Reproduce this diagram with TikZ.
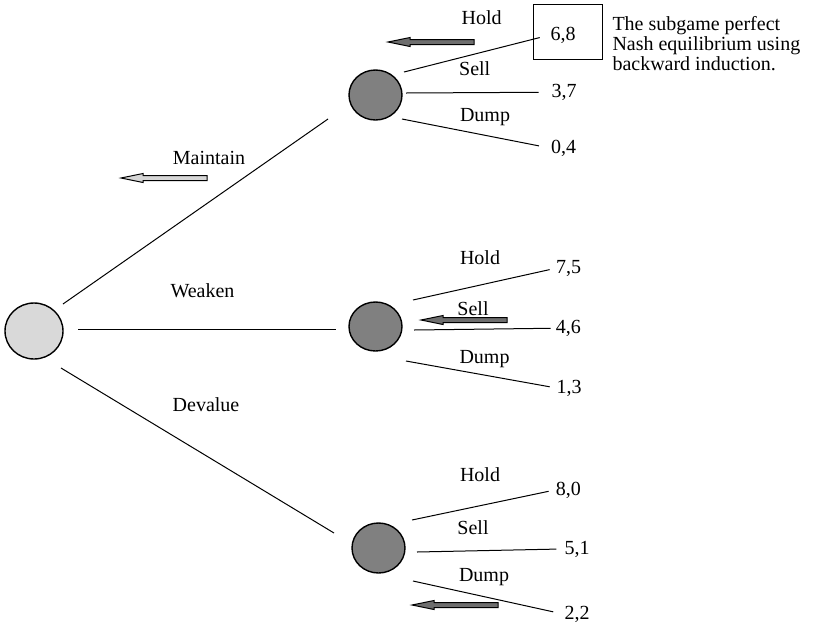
\documentclass[tikz,border=0pt]{standalone}
\usepackage{fontspec}
\setmainfont{Liberation Serif}
\usetikzlibrary{calc,shapes.geometric}
\definecolor{lightarr}{gray}{0.84}
\definecolor{darkarr}{gray}{0.43}

\begin{document}
\begin{tikzpicture}[x=0.5pt,y=-0.5pt,font=\rmfamily\fontsize{10}{10.2}\selectfont,line width=0.5pt,
  decision/.style={ellipse,draw,line width=0.7pt,inner sep=0pt,fill=#1},
  pay/.style={inner sep=0pt,anchor=base},
  act/.style={inner sep=0pt,anchor=base}]
 \useasboundingbox (0,0) rectangle (814,622);

 % decision nodes
 \node[decision=gray!30,minimum width=29pt,minimum height=28pt] (root) at (34,331) {};
 \node[decision=gray,minimum width=26.5pt,minimum height=25pt] (up) at (375.5,95) {};
 \node[decision=gray,minimum width=26.5pt,minimum height=24.5pt] (mid) at (375.5,326.5) {};
 \node[decision=gray,minimum width=26.5pt,minimum height=25pt] (low) at (378.5,548) {};

 % payoffs
 \node[pay] (p68) at (563.2,40) {6,8};
 \node[pay] (p37) at (564,97.3) {3,7};
 \node[pay] (p04) at (563.7,153.3) {0,4};
 \node[pay] (p75) at (568.5,273.3) {7,5};
 \node[pay] (p46) at (568.3,333.3) {4,6};
 \node[pay] (p13) at (569,393) {1,3};
 \node[pay] (p80) at (568.3,495) {8,0};
 \node[pay] (p51) at (577,554) {5,1};
 \node[pay] (p22) at (577,619.3) {2,2};

 % first move
 \draw ($(root)+(29,-27)$) -- ($(up)+(-47.5,24)$);
 \draw ($(root)+(44,-2)$) -- ($(mid)+(-39.5,2.5)$);
 \draw ($(root)+(27,37)$) -- ($(low)+(-44.5,-15)$);
 \node[act] (maintain) at (209,164.6) {Maintain};
 \node[act] (weaken) at (202.5,297.6) {Weaken};
 \node[act] (devalue) at (206,411.6) {Devalue};

 % second move
 \draw[shorten >=5.4pt] ($(up)+(28.5,-23)$) -- (p68.west);
 \draw[shorten >=6.2pt] ($(up)+(30.5,-2)$) -- (p37.west);
 \draw[shorten >=6pt] ($(up)+(26.5,24)$) -- (p04.west);
 \draw[shorten >=3pt] ($(mid)+(37.5,-26.5)$) -- (p75.west);
 \draw[shorten >=2.4pt] ($(mid)+(38.5,3.5)$) -- (p46.west);
 \draw[shorten >=3.2pt] ($(mid)+(30.5,34.5)$) -- (p13.west);
 \draw[shorten >=3.4pt] ($(low)+(33.5,-28)$) -- (p80.west);
 \draw[shorten >=3.8pt] ($(low)+(38.5,4)$) -- (p51.west);
 \draw[shorten >=5.5pt] ($(low)+(34.5,33)$) -- (p22.west);
 \node[act] (uhold) at (481.7,24) {Hold};
 \node[act] (usell) at (474.7,75) {Sell};
 \node[act] (udump) at (485,121.7) {Dump};
 \node[act] (mhold) at (480,264) {Hold};
 \node[act] (msell) at (473,315) {Sell};
 \node[act] (mdump) at (484.5,363.3) {Dump};
 \node[act] (lhold) at (480,481.7) {Hold};
 \node[act] (lsell) at (473,534) {Sell};
 \node[act] (ldump) at (484,581.7) {Dump};

 % equilibrium path
 \foreach \x/\y/\c in {207/178/lightarr,474/42/darkarr,507/320/darkarr,498/605/darkarr}
  \filldraw[fill=\c] (\x,\y-2.5) -- (\x-64,\y-2.5) -- (\x-64,\y-4.5) -- (\x-86,\y)
   -- (\x-64,\y+4.5) -- (\x-64,\y+2.5) -- (\x,\y+2.5) -- cycle;
 \node[draw,minimum width=34.5pt,minimum height=27.5pt,inner sep=0pt] (spe) at (567.5,31.5) {};
 \node[anchor=north west,align=left,inner sep=0pt] (note) at (612,15.6)
   {The subgame perfect\\Nash equilibrium using\\backward induction.};
\end{tikzpicture}
\end{document}
